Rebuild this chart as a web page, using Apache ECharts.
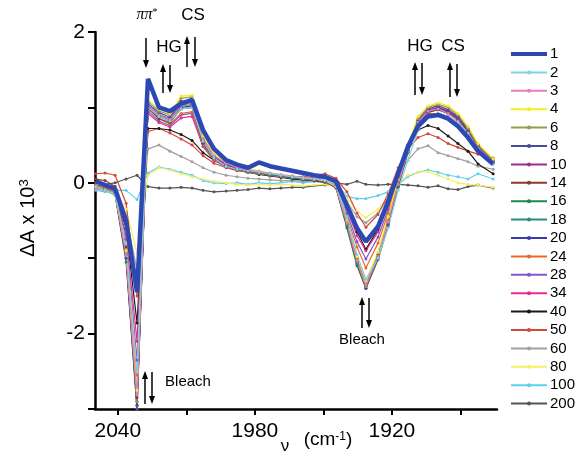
<!DOCTYPE html>
<html>
<head>
<meta charset="utf-8">
<script src="https://cdn.jsdelivr.net/npm/echarts@6/dist/echarts.min.js"></script>
<style>
  html, body { margin: 0; padding: 0; background: #fff; }
  #chart { width: 577px; height: 452px; }
</style>
</head>
<body>
<div id="chart"></div>
<script>
// wavenumber (cm-1) of every measured point
var wavenumber = [2049.6, 2045.6, 2041.2, 2036.4, 2031.6, 2026.8, 2022.0, 2017.2, 2012.3, 2007.5,
  2002.7, 1997.9, 1992.6, 1987.8, 1983.0, 1978.2, 1973.4, 1968.6, 1963.7, 1958.9,
  1954.1, 1949.3, 1944.5, 1939.7, 1935.3, 1931.4, 1926.1, 1921.7, 1917.3, 1913.0,
  1908.6, 1904.2, 1899.8, 1895.4, 1891.1, 1886.7, 1882.3, 1875.7];

// legend names (delay)
var seriesNames = ['1', '2', '3', '4', '6', '8', '10', '14', '16', '18', '20', '24', '28', '34', '40', '50', '60', '80', '100', '200'];
var seriesColors = ['#2c48b4', '#7fd3e2', '#e77fbf', '#f3ee1e', '#9c9a52', '#4b4b9c', '#9a2c9a', '#8a3a2a', '#1c8a4c',
  '#2a8a8a', '#3a3aac', '#e86a2a', '#7a5acc', '#f02a8a', '#1a1a1a', '#d04a3a', '#a0a0a0', '#f7ef62', '#5fcff0', '#555555'];

// ΔA x 10^3 for each delay
var s1 = [0.02, -0.03, -0.08, -0.5, -1.45, 1.38, 1.0, 0.95, 1.05, 1.1, 0.7, 0.45, 0.3, 0.24, 0.2, 0.27, 0.22, 0.19, 0.16, 0.13, 0.1, 0.08, 0.02, -0.3, -0.6, -0.78, -0.58, -0.25, 0.12, 0.48, 0.75, 0.88, 0.9, 0.85, 0.75, 0.6, 0.42, 0.25];
var s2 = [-0.05, -0.1, -0.15, -0.8, -2.5, 1.0, 0.88, 0.82, 0.98, 1.0, 0.55, 0.33, 0.22, 0.18, 0.16, 0.14, 0.12, 0.1, 0.08, 0.06, 0.05, 0.04, -0.02, -0.45, -0.95, -1.28, -1.0, -0.6, -0.1, 0.3, 0.7, 0.88, 0.92, 0.88, 0.8, 0.65, 0.45, 0.25];
var s3 = [-0.08, -0.1, -0.14, -0.95, -2.8, 1.02, 0.9, 0.84, 1.02, 1.05, 0.58, 0.36, 0.26, 0.2, 0.17, 0.15, 0.13, 0.11, 0.09, 0.07, 0.06, 0.04, -0.04, -0.52, -1.02, -1.35, -0.98, -0.52, -0.02, 0.42, 0.8, 0.95, 0.98, 0.92, 0.82, 0.66, 0.46, 0.28];
var s4 = [-0.06, -0.1, -0.15, -0.9, -2.75, 1.1, 0.98, 0.92, 1.15, 1.16, 0.62, 0.38, 0.27, 0.22, 0.18, 0.16, 0.13, 0.11, 0.09, 0.07, 0.05, 0.03, -0.05, -0.5, -0.98, -1.3, -0.92, -0.45, 0.05, 0.5, 0.88, 1.02, 1.06, 1.02, 0.92, 0.75, 0.52, 0.32];
var s6 = [-0.04, -0.08, -0.13, -0.92, -2.9, 1.08, 0.95, 0.9, 1.12, 1.14, 0.6, 0.37, 0.26, 0.21, 0.18, 0.15, 0.12, 0.1, 0.08, 0.06, 0.05, 0.03, -0.05, -0.55, -1.05, -1.38, -0.97, -0.5, 0.02, 0.47, 0.85, 1.0, 1.04, 1.0, 0.9, 0.72, 0.5, 0.3];
var s8 = [-0.05, -0.09, -0.13, -0.95, -2.95, 1.05, 0.93, 0.87, 1.08, 1.1, 0.57, 0.35, 0.25, 0.2, 0.17, 0.15, 0.12, 0.1, 0.08, 0.06, 0.05, 0.03, -0.05, -0.55, -1.05, -1.4, -0.98, -0.52, 0.0, 0.45, 0.83, 0.98, 1.02, 0.97, 0.88, 0.7, 0.5, 0.3];
var s10 = [-0.06, -0.1, -0.15, -1.0, -3.0, 1.03, 0.9, 0.85, 1.05, 1.07, 0.55, 0.34, 0.24, 0.19, 0.16, 0.14, 0.12, 0.1, 0.08, 0.06, 0.04, 0.02, -0.06, -0.56, -1.06, -1.4, -1.0, -0.55, -0.03, 0.42, 0.8, 0.96, 1.0, 0.95, 0.86, 0.7, 0.48, 0.28];
var s14 = [0.05, 0.03, -0.05, -0.85, -2.85, 1.0, 0.85, 0.8, 0.98, 1.0, 0.52, 0.33, 0.24, 0.19, 0.16, 0.14, 0.12, 0.1, 0.09, 0.07, 0.06, 0.04, -0.03, -0.5, -1.0, -1.35, -0.95, -0.5, 0.0, 0.43, 0.8, 0.94, 0.97, 0.92, 0.83, 0.67, 0.47, 0.28];
var s16 = [-0.07, -0.1, -0.16, -1.05, -3.0, 1.02, 0.9, 0.84, 1.03, 1.05, 0.55, 0.34, 0.24, 0.19, 0.16, 0.14, 0.11, 0.09, 0.07, 0.05, 0.04, 0.02, -0.07, -0.6, -1.1, -1.4, -1.02, -0.58, -0.06, 0.4, 0.78, 0.94, 0.98, 0.93, 0.84, 0.68, 0.47, 0.28];
var s18 = [-0.06, -0.1, -0.15, -1.0, -2.95, 1.0, 0.88, 0.83, 1.02, 1.04, 0.54, 0.33, 0.23, 0.18, 0.15, 0.13, 0.11, 0.09, 0.07, 0.05, 0.04, 0.02, -0.06, -0.58, -1.08, -1.39, -1.0, -0.56, -0.05, 0.4, 0.78, 0.93, 0.97, 0.92, 0.83, 0.67, 0.46, 0.27];
var s20 = [-0.05, -0.09, -0.14, -0.95, -2.9, 1.0, 0.88, 0.82, 1.0, 1.02, 0.53, 0.33, 0.23, 0.18, 0.15, 0.13, 0.11, 0.09, 0.07, 0.05, 0.04, 0.02, -0.05, -0.55, -1.05, -1.37, -0.98, -0.53, -0.02, 0.42, 0.8, 0.95, 0.99, 0.94, 0.85, 0.68, 0.47, 0.28];
var s24 = [-0.03, -0.06, -0.12, -0.8, -2.55, 0.98, 0.85, 0.78, 0.92, 0.94, 0.5, 0.31, 0.22, 0.17, 0.14, 0.12, 0.1, 0.08, 0.07, 0.05, 0.04, 0.02, -0.05, -0.45, -0.85, -1.13, -0.8, -0.4, 0.05, 0.45, 0.78, 0.9, 0.92, 0.88, 0.8, 0.65, 0.45, 0.27];
var s28 = [-0.04, -0.07, -0.12, -0.75, -2.35, 0.95, 0.82, 0.76, 0.9, 0.92, 0.48, 0.3, 0.21, 0.17, 0.14, 0.12, 0.1, 0.08, 0.06, 0.05, 0.04, 0.02, -0.04, -0.4, -0.78, -1.01, -0.72, -0.35, 0.08, 0.48, 0.8, 0.95, 0.98, 0.95, 0.88, 0.72, 0.5, 0.3];
var s34 = [0.0, -0.03, -0.1, -0.7, -2.1, 0.92, 0.8, 0.74, 0.86, 0.88, 0.48, 0.3, 0.22, 0.18, 0.15, 0.13, 0.11, 0.09, 0.08, 0.07, 0.06, 0.05, 0.0, -0.35, -0.7, -0.9, -0.65, -0.3, 0.12, 0.5, 0.8, 0.92, 0.9, 0.85, 0.75, 0.6, 0.42, 0.25];
var s40 = [-0.05, -0.08, -0.15, -0.6, -1.86, 0.72, 0.72, 0.7, 0.64, 0.56, 0.4, 0.3, 0.22, 0.17, 0.14, 0.11, 0.09, 0.07, 0.05, 0.04, 0.03, 0.01, -0.05, -0.32, -0.65, -0.88, -0.62, -0.3, 0.15, 0.5, 0.7, 0.76, 0.72, 0.62, 0.52, 0.42, 0.25, 0.12];
var s50 = [0.12, 0.13, 0.1, -0.27, -1.5, 0.68, 0.72, 0.66, 0.58, 0.5, 0.36, 0.26, 0.2, 0.16, 0.14, 0.12, 0.1, 0.09, 0.08, 0.08, 0.1, 0.12, 0.06, -0.12, -0.4, -0.59, -0.42, -0.15, 0.2, 0.45, 0.6, 0.65, 0.6, 0.52, 0.47, 0.42, 0.38, 0.33];
var s60 = [-0.05, -0.1, -0.15, -0.45, -1.15, 0.45, 0.5, 0.42, 0.35, 0.28, 0.2, 0.14, 0.1, 0.08, 0.06, 0.05, 0.04, 0.03, 0.03, 0.02, 0.02, 0.0, -0.05, -0.25, -0.45, -0.53, -0.4, -0.2, 0.1, 0.3, 0.45, 0.49, 0.4, 0.36, 0.32, 0.28, 0.22, 0.18];
var s80 = [-0.05, -0.1, -0.15, -0.35, -0.93, 0.1, 0.2, 0.17, 0.12, 0.08, 0.05, 0.02, 0.0, -0.02, -0.03, -0.02, -0.03, -0.02, -0.03, -0.04, -0.03, -0.02, -0.05, -0.2, -0.38, -0.46, -0.35, -0.2, 0.0, 0.1, 0.14, 0.15, 0.1, 0.05, 0.0, -0.02, -0.03, -0.06];
var s100 = [-0.1, -0.12, -0.1, -0.1, -0.22, 0.13, 0.21, 0.18, 0.14, 0.1, 0.03, 0.0, -0.01, 0.0, -0.02, 0.0, -0.01, 0.0, 0.02, 0.0, 0.02, 0.05, 0.0, -0.18, -0.21, -0.21, -0.17, -0.12, -0.02, 0.08, 0.14, 0.17, 0.14, 0.1, 0.08, 0.05, 0.12, 0.05];
var s200 = [-0.04, -0.02, 0.0, 0.05, 0.1, -0.05, -0.07, -0.07, -0.06, -0.07, -0.1, -0.12, -0.11, -0.1, -0.09, -0.07, -0.08, -0.07, -0.06, -0.06, -0.04, -0.03, 0.0, -0.02, 0.02, -0.02, -0.03, -0.02, -0.02, -0.03, -0.04, -0.06, -0.04, -0.08, -0.09, -0.05, -0.03, -0.07];

var seriesValues = [s1, s2, s3, s4, s6, s8, s10, s14, s16, s18, s20, s24, s28, s34, s40, s50, s60, s80, s100, s200];

var xTicks = [2040, 2010, 1980, 1950, 1920, 1890];
var xLabels = [2040, 1980, 1920];
var yLabels = [-2, 0, 2];

var font = 'Liberation Sans, Arial, sans-serif';

// 竖直箭头，箭头头在 yTo 一端
function arrow(x, yFrom, yTo) {
  var dir = yTo > yFrom ? 1 : -1;
  return [
    { type: 'line', shape: { x1: x, y1: yFrom, x2: x, y2: yTo - dir * 6 }, style: { stroke: '#000', lineWidth: 1.5 } },
    { type: 'polygon', shape: { points: [[x - 3, yTo - dir * 8], [x + 3, yTo - dir * 8], [x, yTo]] }, style: { fill: '#000' } }
  ];
}

function label(x, y, text, size, extra) {
  var st = { text: text, fontSize: size, fontFamily: font, fill: '#000', align: 'center', verticalAlign: 'middle' };
  for (var k in extra) st[k] = extra[k];
  return { type: 'text', x: x, y: y, style: st };
}

var myChart = echarts.init(document.getElementById('chart'), null, { renderer: 'canvas' });

var series = [];
for (var i = seriesNames.length - 1; i >= 0; i--) {
  var pts = [];
  for (var j = 0; j < wavenumber.length; j++) {
    pts.push([wavenumber[j], seriesValues[i][j]]);
  }
  var first = (i === 0);
  series.push({
    name: seriesNames[i],
    type: 'line',
    data: pts,
    symbol: first ? 'none' : 'circle',
    symbolSize: 3,
    color: seriesColors[i],
    lineStyle: { width: first ? 4.5 : 1.2 },
    z: first ? 5 : 2
  });
}

// 图例：第一项只画粗线，不画圆点
var legendData = seriesNames.map(function (n, k) {
  return k === 0 ? {
    name: n, itemStyle: { opacity: 0 }, lineStyle: { width: 4 },
    textStyle: { fontWeight: 'normal', fontSize: 15, fontFamily: font, color: '#000' }
  } : { name: n };
});

var graphics = [];
graphics = graphics.concat(arrow(146, 38, 68));
graphics = graphics.concat(arrow(163, 93, 64));
graphics = graphics.concat(arrow(170, 65, 93));
graphics = graphics.concat(arrow(187, 67, 36));
graphics = graphics.concat(arrow(195, 37, 67));
graphics = graphics.concat(arrow(415, 95, 62));
graphics = graphics.concat(arrow(422, 63, 95));
graphics = graphics.concat(arrow(450, 97, 62));
graphics = graphics.concat(arrow(457, 64, 97));
graphics = graphics.concat(arrow(145, 404, 371));
graphics = graphics.concat(arrow(152, 372, 404));
graphics = graphics.concat(arrow(362, 328, 297));
graphics = graphics.concat(arrow(369, 298, 328));

graphics.push({
  type: 'text', x: 147, y: 15,
  style: {
    text: '{a|ππ}{s|*}', fontFamily: 'Liberation Serif, serif', fill: '#000', align: 'center', verticalAlign: 'middle',
    rich: { a: { fontSize: 16, fontStyle: 'italic', fontFamily: 'Liberation Serif, serif' }, s: { fontSize: 10, verticalAlign: 'top', fontFamily: 'Liberation Serif, serif' } }
  }
});
graphics.push(label(193, 15, 'CS', 17));
graphics.push(label(169, 47, 'HG', 17));
graphics.push(label(420, 46, 'HG', 17));
graphics.push(label(453, 46, 'CS', 17));
graphics.push(label(188, 382, 'Bleach', 15));
graphics.push(label(362, 340, 'Bleach', 15));
// y 轴标题
graphics.push({
  type: 'text', x: 28, y: 218, rotation: Math.PI / 2,
  style: {
    text: '{a|ΔA x 10}{s|3}', fill: '#000', align: 'center', verticalAlign: 'middle',
    rich: { a: { fontSize: 20, fontFamily: font }, s: { fontSize: 13, fontFamily: font, verticalAlign: 'top' } }
  }
});
// x 轴标题
graphics.push(label(285, 446, 'ν', 17));
graphics.push({
  type: 'text', x: 328, y: 440,
  style: {
    text: '{a|(cm}{s|-1}{a|)}', fill: '#000', align: 'center', verticalAlign: 'middle',
    rich: { a: { fontSize: 19, fontFamily: font }, s: { fontSize: 12, fontFamily: font, verticalAlign: 'top' } }
  }
});

var option = {
  animation: false,
  backgroundColor: '#fff',
  grid: { left: 95, right: 80, top: 32, bottom: 43 },
  legend: {
    data: legendData,
    orient: 'vertical',
    left: 504,
    top: 41,
    itemWidth: 36,
    itemHeight: 5,
    itemGap: 2.4,
    selectedMode: false,
    textStyle: { fontSize: 15, fontFamily: font, color: '#000', lineHeight: 16, padding: [0, 0, 0, -2] }
  },
  xAxis: {
    type: 'value',
    min: 1874,
    max: 2050,
    inverse: true,
    axisLine: { show: true, onZero: false, lineStyle: { color: '#000', width: 2.5 } },
    axisTick: { show: true, length: 6, lineStyle: { color: '#000', width: 2 }, customValues: xTicks },
    axisLabel: {
      customValues: xLabels, fontSize: 21, fontFamily: font, color: '#000', margin: 12,
      formatter: function (v) { return String(v); }
    },
    splitLine: { show: false }
  },
  yAxis: {
    type: 'value',
    min: -3,
    max: 2,
    interval: 1,
    axisLine: { show: true, lineStyle: { color: '#000', width: 2.5 } },
    axisTick: { show: true, length: 7, lineStyle: { color: '#000', width: 2 } },
    axisLabel: { customValues: yLabels, fontSize: 21, fontFamily: font, color: '#000', margin: 10 },
    splitLine: { show: false }
  },
  series: series,
  graphic: graphics
};
myChart.setOption(option);
</script>
</body>
</html>
